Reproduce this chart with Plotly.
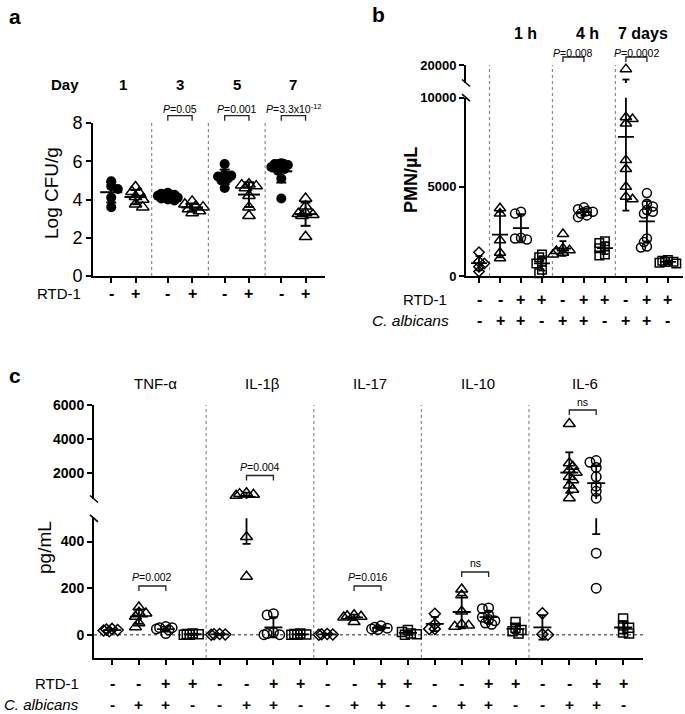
import numpy as np
import plotly.graph_objects as go

W, H = 685, 714
FONT = "Liberation Sans, Arial, Helvetica, sans-serif"

# ---------------- data ----------------
# (a) Log CFU/g at days 1, 3, 5, 7 ; RTD-1 untreated (-) and treated (+)
a_days = ["1", "3", "5", "7"]
a_untreated = [
    [4.95, 4.7, 4.55, 4.1, 3.6],
    [4.35, 4.3, 4.25, 4.2, 4.2, 4.15, 4.1, 4.05, 4.0, 3.95],
    [5.85, 5.3, 5.25, 5.2, 5.1, 5.0, 4.6],
    [5.9, 5.85, 5.8, 5.75, 5.7, 5.6, 5.5, 5.1, 4.05],
]
a_treated = [
    [4.65, 4.4, 4.35, 4.15, 4.0, 3.75, 3.6],
    [3.9, 3.75, 3.65, 3.6, 3.5, 3.4, 3.3],
    [4.8, 4.75, 4.7, 4.6, 4.2, 3.6, 3.15],
    [4.05, 3.65, 3.3, 3.25, 3.2, 3.15, 2.05],
]
a_pvals = ["", "<i>P</i>=0.05", "<i>P</i>=0.001", "<i>P</i>=3.3x10<sup>-12</sup>"]
a_yticks = [0, 2, 4, 6, 8]

# (b) PMN/µL
b_times = ["1 h", "4 h", "7 days"]
b_values = [
    [1330, 800, 700, 520, 250],
    [3800, 3500, 2000, 1300, 1000],
    [3600, 3500, 2150, 2100, 2050],
    [1200, 1050, 800, 700, 350, 150],
    [2350, 1550, 1450, 1400, 1300, 1200],
    [3850, 3750, 3650, 3600, 3500, 3400, 3300],
    [1950, 1850, 1650, 1550, 1200, 1150],
    [17700, 8900, 8800, 8550, 6500, 6000, 5000, 4450, 4300],
    [4650, 4050, 3900, 3700, 3600, 3500, 2100, 1900, 1650, 1600],
    [900, 850, 800, 780, 750, 700],
]
b_rtd = ["-", "-", "+", "+", "-", "+", "+", "-", "+", "+"]
b_ca = ["-", "+", "+", "-", "+", "+", "-", "+", "+", "-"]
b_pvals = ["<i>P</i>=0.008", "<i>P</i>=0.0002"]
b_yticks_low = [0, 5000, 10000]
b_yticks_high = [20000]

# (c) cytokines pg/mL ; groups per cytokine: control, C. albicans, C. albicans + RTD-1, RTD-1
c_cytokines = ["TNF-α", "IL-1β", "IL-17", "IL-10", "IL-6"]
c_ctrl = [[25, 22, 20, 18, 15], [3, 2, 1, 0], [3, 2, 1, 0], [90, 45, 25, 25], [92, 2, 0]]
c_ca = [
    [118, 95, 92, 78, 50, 33],
    [850, 800, 760, 700, 420, 250],
    [85, 80, 78, 75, 55],
    [195, 170, 100, 45, 40, 35],
    [4900, 2600, 2400, 2200, 2050, 1800, 1600, 1300, 1050, 550],
]
c_ca_rtd = [
    [35, 30, 30, 25, 20, 5],
    [90, 85, 10, 5, 0, 0],
    [38, 32, 28, 25, 22],
    [115, 112, 85, 75, 65, 60, 50, 45],
    [2750, 2650, 2350, 1800, 1250, 950, 550, 350, 200],
]
c_rtd = [[5, 3, 2, 0, 0], [5, 3, 1, 0, 0], [20, 12, 5, 2, 0], [55, 30, 20, 15, 5], [70, 40, 30, 10, 5]]
c_rtd_signs = ["-", "-", "+", "+"]
c_ca_signs = ["-", "+", "+", "-"]
c_pvals = ["<i>P</i>=0.002", "<i>P</i>=0.004", "<i>P</i>=0.016", "ns", "ns"]
c_yticks_low = [0, 200, 400]
c_yticks_high = [2000, 4000, 6000]

# ---------------- geometry (pixels) ----------------
def px(x):
    return x / W


def py(y):
    return 1 - y / H


A_X, A_XR = (93, 325), [-0.75, 8.8]
A_Y, A_YR = (276, 123), [0, 8]
a_pos = [0, 1, 2.33, 3.33, 4.67, 5.67, 7, 8]

B_X, B_XR = (466, 683), [-0.62, 9.72]
B_LO, B_LO_R = (276, 97.7), [0, 10000]
B_HI, B_HI_R = (83, 65), [10000, 20000]

C_X, C_XR = (94, 643), [-0.67, 19.74]
C_LO, C_LO_R = (658, 518.3), [-100, 500]
C_HI, C_HI_R = (499, 405), [500, 6000]


def xscale(dom, rng):
    return (dom[1] - dom[0]) / (rng[1] - rng[0])


def ypix(v, dom, rng):
    b, t = dom
    return b - (v - rng[0]) / (rng[1] - rng[0]) * (b - t)


def swarm(pys, d, step, maxk=3):
    order = np.argsort(pys, kind="stable")
    placed = []
    offs = np.zeros(len(pys))
    for n, i in enumerate(order):
        best, bestscore = None, -1.0
        for k in range(0, maxk + 1):
            sg = [1] if k == 0 else ([1, -1] if n % 2 == 0 else [-1, 1])
            for s in sg:
                o = s * k * step
                dmin = min([np.hypot(o - po, pys[i] - pp) for po, pp in placed] + [1e9])
                if dmin >= d:
                    best, bestscore = o, 1e9
                    break
                if dmin > bestscore:
                    best, bestscore = o, dmin
            if bestscore >= 1e9:
                break
        offs[i] = best
        placed.append((best, pys[i]))
    return offs


fig = go.Figure()


def add_group(xpos, vals, xa, axes, xsc, symbol, size, filled, mean_hw, cap_hw, lw=1.8):
    """axes: list of (yaxis_name, dom, rng), lower first."""
    vals = np.asarray(vals, float)
    which, pys = [], []
    for v in vals:
        k = 0
        if len(axes) > 1 and v > axes[0][2][1]:
            k = 1
        which.append(k)
        pys.append(ypix(v, axes[k][1], axes[k][2]))
    offs = swarm(np.array(pys), d=size * 0.45, step=size * 0.33) / xsc
    for k, (ya, dom, rng) in enumerate(axes):
        sel = [i for i in range(len(vals)) if which[i] == k]
        if sel:
            fig.add_trace(go.Scatter(
                x=[xpos + offs[i] for i in sel], y=[vals[i] for i in sel],
                xaxis=xa, yaxis=ya, mode="markers", cliponaxis=False, hoverinfo="skip",
                marker=dict(symbol=symbol, size=size, color="black",
                            line=dict(color="black", width=0 if filled else 1.5))))
    m, s = vals.mean(), vals.std(ddof=1)
    hw, cw = mean_hw / xsc, cap_hw / xsc
    xs = [xpos, xpos, None, xpos - cw, xpos + cw, None, xpos - cw, xpos + cw, None, xpos - hw, xpos + hw]
    ys = [m - s, m + s, None, m + s, m + s, None, m - s, m - s, None, m, m]
    for ya, dom, rng in axes:
        fig.add_trace(go.Scatter(x=xs, y=ys, xaxis=xa, yaxis=ya, mode="lines",
                                 hoverinfo="skip", line=dict(color="black", width=lw)))


# ---- panel a ----
axsc = xscale(A_X, A_XR)
for d in range(4):
    add_group(a_pos[2 * d], a_untreated[d], "x", [("y", A_Y, A_YR)], axsc,
              "circle", 10, True, 11, 5, 2)
    add_group(a_pos[2 * d + 1], a_treated[d], "x", [("y", A_Y, A_YR)], axsc,
              "triangle-up-open", 11, False, 11, 5, 2)

# ---- panel b ----
sym = {("-", "-"): ("diamond-open", 8), ("-", "+"): ("triangle-up-open", 10),
       ("+", "+"): ("circle-open", 9), ("+", "-"): ("square-open", 8.5)}
bxsc = xscale(B_X, B_XR)
for g, vals in enumerate(b_values):
    sy, sz = sym[(b_rtd[g], b_ca[g])]
    add_group(g, vals, "x2", [("y2", B_LO, B_LO_R), ("y3", B_HI, B_HI_R)], bxsc,
              sy, sz, False, 8, 3.5, 1.8)

# ---- panel c ----
cxsc = xscale(C_X, C_XR)
for ci in range(5):
    groups = [c_ctrl[ci], c_ca[ci], c_ca_rtd[ci], c_rtd[ci]]
    for j, vals in enumerate(groups):
        sy, sz = sym[(c_rtd_signs[j], c_ca_signs[j])]
        add_group(4 * ci + j, vals, "x3", [("y4", C_LO, C_LO_R), ("y5", C_HI, C_HI_R)], cxsc,
                  sy, sz + 0.5, False, 9, 4, 1.8)

# ---------------- axes ----------------
base = dict(showline=True, linewidth=2, linecolor="black", ticks="outside", ticklen=5,
            tickwidth=2, tickcolor="black", showgrid=False, zeroline=False, fixedrange=True,
            automargin=False)


def yax(dom, rng, anchor, tv, fsize, bold):
    return dict(base, domain=[py(dom[0]), py(dom[1])], range=rng, anchor=anchor,
                tickvals=tv, ticktext=[str(v) for v in tv],
                tickfont=dict(family=FONT, size=fsize, color="black",
                              weight="bold" if bold else "normal"))


def xax(dom, rng, anchor, tv):
    return dict(base, domain=[px(dom[0]), px(dom[1])], range=rng, anchor=anchor,
                tickvals=tv, showticklabels=False)


fig.update_layout(
    width=W, height=H, margin=dict(l=0, r=0, t=0, b=0, pad=0, autoexpand=False), autosize=False,
    paper_bgcolor="white", plot_bgcolor="white", showlegend=False,
    font=dict(family=FONT, color="black"),
    xaxis=xax(A_X, A_XR, "y", a_pos),
    yaxis=yax(A_Y, A_YR, "x", a_yticks, 18, False),
    xaxis2=xax(B_X, B_XR, "y2", list(range(10))),
    yaxis2=yax(B_LO, B_LO_R, "x2", b_yticks_low, 13, True),
    yaxis3=yax(B_HI, B_HI_R, "x2", b_yticks_high, 13, True),
    xaxis3=xax(C_X, C_XR, "y4", list(range(20))),
    yaxis4=yax(C_LO, C_LO_R, "x3", c_yticks_low, 14, True),
    yaxis5=yax(C_HI, C_HI_R, "x3", c_yticks_high, 14, True),
)

# ---------------- annotations ----------------
ann = []


def txt(x, y, s, size, bold=False, xanchor="center", xref="paper", angle=0, yanchor="middle"):
    xx = px(x) if xref == "paper" else x
    ann.append(dict(x=xx, y=py(y), xref=xref, yref="paper", text=s, showarrow=False,
                    xanchor=xanchor, yanchor=yanchor, textangle=angle, borderpad=0,
                    font=dict(family=FONT, size=size, color="black",
                              weight="bold" if bold else "normal")))


# panel letters
txt(15, 16, "a", 21, True)
txt(378, 14, "b", 21, True)
txt(15, 375, "c", 21, True)

# axis titles
txt(52, 193, "Log CFU/g", 19, False, angle=-90)
txt(411, 180, "PMN/µL", 18, True, angle=-90)
txt(44, 548, "pg/mL", 19, False, angle=-90)

# panel a labels
txt(65, 84, "Day", 15, True)
for d in range(4):
    txt((a_pos[2 * d] + a_pos[2 * d + 1]) / 2, 84, a_days[d], 15, True, xref="x")
txt(82, 293, "RTD-1", 15, False, xanchor="right")
for i, p in enumerate(a_pos):
    txt(p, 293, "-" if i % 2 == 0 else "+", 16, True, xref="x")

# panel b labels
for t, xh in zip(b_times, [2.2, 5.15, 7.8]):
    txt(xh, 33, t, 16, True, xref="x2")
txt(448, 299, "RTD-1", 15, False, xanchor="right")
txt(450, 320, "<i>C. albicans</i>", 15.5, False, xanchor="right")
for g in range(10):
    txt(g, 299, b_rtd[g], 16, True, xref="x2")
    txt(g, 320, b_ca[g], 16, True, xref="x2")

# panel c labels
for ci, name in enumerate(c_cytokines):
    txt(4 * ci + 1.6, 383, name, 15, False, xref="x3")
txt(80, 683, "RTD-1", 15, False, xanchor="right")
txt(80, 713.5, "<i>C. albicans</i>", 15, False, xanchor="right", yanchor="bottom")
for g in range(20):
    txt(g, 683, c_rtd_signs[g % 4], 16, True, xref="x3")
    txt(g, 713.5, c_ca_signs[g % 4], 15.5, True, xref="x3", yanchor="bottom")

# ---------------- shapes ----------------
shapes = []
SEP = dict(color="#8a8a8a", width=1.2, dash="dot")


def vsep(xref, x, ytop, ybot):
    shapes.append(dict(type="line", xref=xref, yref="paper", x0=x, x1=x,
                       y0=py(ybot), y1=py(ytop), line=SEP, layer="below"))


for x in [(a_pos[1] + a_pos[2]) / 2, (a_pos[3] + a_pos[4]) / 2, (a_pos[5] + a_pos[6]) / 2]:
    vsep("x", x, A_Y[1], A_Y[0])
for x in [0.5, 3.5, 6.5]:
    vsep("x2", x, B_HI[1], B_LO[0])
for x in [3.5, 7.5, 11.5, 15.5]:
    vsep("x3", x, C_HI[1], C_LO[0])

shapes.append(dict(type="line", xref="x3 domain", yref="y4", x0=0, x1=1, y0=0, y1=0,
                   line=dict(color="#6a6a6a", width=1.6, dash="dot"), layer="below"))


def bracket(xref, xa, xb, ytop, drop, text, ytext):
    shapes.append(dict(type="path", xref=xref, yref="paper",
                       path=f"M {xa},{py(ytop + drop)} L {xa},{py(ytop)} L {xb},{py(ytop)} L {xb},{py(ytop + drop)}",
                       line=dict(color="#222", width=1.3)))
    ann.append(dict(x=(xa + xb) / 2, y=py(ytext), xref=xref, yref="paper", text=text,
                    showarrow=False, xanchor="center", yanchor="middle", borderpad=0,
                    font=dict(family=FONT, size=10.5, color="black")))


for d in range(1, 4):
    bracket("x", a_pos[2 * d], a_pos[2 * d + 1], 115.7, 5, a_pvals[d], 108.5)
bracket("x2", 4, 5, 57, 5, b_pvals[0], 53)
bracket("x2", 7, 8, 57, 5, b_pvals[1], 53)
for ci, (yt, ytx) in enumerate([(586, 577), (475.5, 467), (586, 577), (572, 563), (410, 402)]):
    bracket("x3", 4 * ci + 1, 4 * ci + 2, yt, 5, c_pvals[ci], ytx)


def slash(cx, cy):
    shapes.append(dict(type="line", xref="paper", yref="paper",
                       x0=px(cx - 4), x1=px(cx + 4), y0=py(cy - 3.5), y1=py(cy + 3.5),
                       line=dict(color="black", width=1.6)))


slash(B_X[0], B_HI[0])
slash(B_X[0], B_LO[1])
slash(C_X[0], C_HI[0])
slash(C_X[0], C_LO[1])

fig.update_layout(annotations=ann, shapes=shapes)
fig.write_html("out.html", config={"responsive": False, "displayModeBar": False},
               post_script="document.body.style.margin='0px';")
